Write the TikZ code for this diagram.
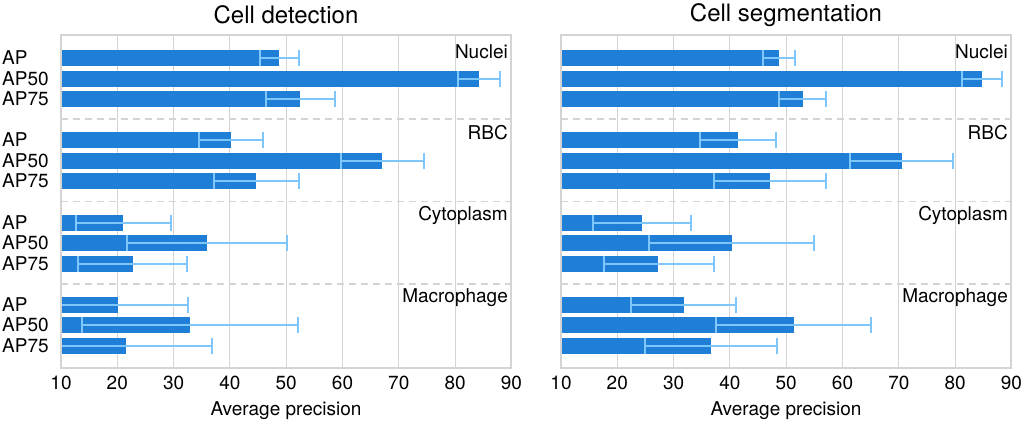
\documentclass[tikz,border=0pt]{standalone}
\usepackage{fontspec}
\setmainfont{TeX Gyre Heros}
\definecolor{bar}{HTML}{1F7FD6}
\definecolor{err}{HTML}{7EC6FB}
\definecolor{grid}{HTML}{D4D4D4}
\begin{document}
\begin{tikzpicture}[x=1pt,y=-1pt,
  lbl/.style={font=\fontsize{19}{19}\selectfont,inner sep=0},
  ttl/.style={font=\fontsize{24}{24}\selectfont,inner sep=0},
  errline/.style={err,line width=2pt}]
\useasboundingbox (0,0) rectangle (1024,431);
\def\rows{58,78.5,99,140,160.5,181,222.5,243,263.5,304.5,325,345.5}
\foreach \ox/\title/\data in {0/Cell detection/{48.8/45.3/52.3,84.2/80.5/88.0,52.5/46.5/58.7,40.2/34.5/45.9,67.1/59.8/74.4,44.7/37.2/52.3,21.1/12.7/29.5,36.0/21.8/50.1,22.7/13.1/32.3,20.2/5/32.5,33.0/13.8/52.1,21.6/5/36.8},
  500/Cell segmentation/{48.8/45.9/51.6,84.7/81.3/88.3,53.0/48.8/57.1,41.4/34.6/48.1,70.6/61.4/79.7,47.2/37.2/57.1,24.3/15.6/33.0,40.3/25.6/54.9,27.3/17.6/37.1,31.8/22.5/41.0,51.4/37.6/65.1,36.6/25.0/48.4}}{
 \begin{scope}[xshift=\ox pt]
  % grid
  \foreach \v in {20,30,...,80}
    \draw[grid,line width=1pt] ({61+(\v-10)*5.63},35) -- ({61+(\v-10)*5.63},368);
  \foreach \y in {119,201.5,284}
    \draw[grid,line width=1.5pt,dash pattern=on 7pt off 5pt] (61,\y) -- (511,\y);
  % bars
  \foreach \b/\lo/\hi [count=\i] in \data {
    \pgfmathsetmacro{\yy}{{\rows}[\i-1]}
    \pgfmathsetmacro{\xb}{61+(\b-10)*5.63}
    \pgfmathsetmacro{\xl}{61+(max(\lo,10)-10)*5.63}
    \pgfmathsetmacro{\xh}{61+(\hi-10)*5.63}
    \fill[bar] (61,\yy-8) rectangle (\xb,\yy+8);
    \draw[errline] (\xl,\yy) -- (\xh,\yy);
    \draw[errline] (\xh,\yy-8) -- (\xh,\yy+8);
    \ifdim\lo pt>10pt \draw[errline] (\xl,\yy-8) -- (\xl,\yy+8); \fi
  }
  \draw[grid,line width=1.2pt] (61,35) rectangle (511,368);
  \foreach \v in {10,20,...,90}
    \node[lbl] at ({61+(\v-10)*5.63},383) {\v};
  \node[lbl] at (286,411) {Average precision};
  \node[ttl] at (286,15) {\title};
  \node[lbl,anchor=east] at (508,52) {Nuclei};
  \node[lbl,anchor=east] at (508,133) {RBC};
  \node[lbl,anchor=east] at (508,215) {Cytoplasm};
  \node[lbl,anchor=east] at (508,298) {Macrophage};
 \end{scope}}
\foreach \t [count=\i] in {AP,AP50,AP75,AP,AP50,AP75,AP,AP50,AP75,AP,AP50,AP75}{
  \pgfmathsetmacro{\yy}{{\rows}[\i-1]}
  \node[lbl,anchor=west] at (2,\yy) {\t};}
\end{tikzpicture}
\end{document}
